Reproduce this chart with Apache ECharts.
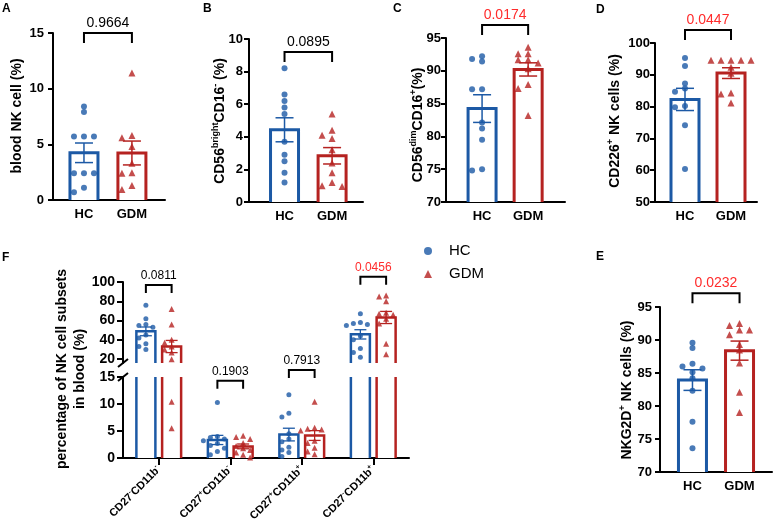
<!DOCTYPE html>
<html>
<head>
<meta charset="utf-8">
<script src="https://cdn.jsdelivr.net/npm/echarts@6/dist/echarts.min.js"></script>
<style>
html, body { margin: 0; padding: 0; background: #fff; }
#main { width: 775px; height: 531px; }
</style>
</head>
<body>
<div id="main"></div>
<script>
// values (one point per subject)
var groupNames = ["HC", "GDM"];
var pValues = ["0.9664", "0.0895", "0.0174", "0.0447", "0.0232"];

var nkHC = [8.4, 7.9, 5.7, 5.7, 5.7, 2.4, 2.4, 2.4, 1.1, 0.7];
var nkGDM = [11.4, 5.8, 5.6, 4.8, 3.3, 2.45, 2.4, 1.3, 0.95];
var brightHC = [8.2, 6.6, 6.2, 5.8, 5.4, 3.7, 2.9, 2.5, 1.8, 1.2];
var brightGDM = [5.4, 4.4, 4.1, 3.9, 3.2, 2.4, 1.8, 1.2, 1.0, 0.95];
var dimHC = [92.2, 91.8, 91.4, 87.2, 87.2, 82.1, 81.2, 79.5, 75.0, 74.8];
var dimGDM = [93.6, 92.6, 92.6, 91.7, 91.7, 91.2, 90.3, 87.9, 87.3, 83.2];
var cd226HC = [95.3, 92.8, 87.3, 85.7, 84.7, 80.2, 79.8, 74.1, 60.4];
var cd226GDM = [94.6, 94.6, 94.6, 94.6, 94.6, 92.4, 90.5, 84.3, 84.0, 81.1];
var nkg2dHC = [89.6, 88.8, 86.4, 86.0, 85.7, 85.1, 84.2, 82.3, 77.6, 73.6];
var nkg2dGDM = [92.5, 92.2, 91.5, 91.5, 90.8, 89.3, 88.5, 86.5, 82.1, 79.0];

var subsetLabels = ["CD27⁻CD11b⁻", "CD27⁺CD11b⁻", "CD27⁺CD11b⁺", "CD27⁻CD11b⁺"];
var subsetP = ["0.0811", "0.1903", "0.7913", "0.0456"];
var subsetHC = [
    [76, 62, 56, 55, 53, 45, 42, 36, 33, 30],
    [10.3, 4.0, 3.8, 3.5, 3.2, 2.7, 2.3, 1.8, 1.2, 0.6],
    [11.7, 8.3, 7.6, 4.5, 3.5, 3.0, 2.0, 1.5, 1.0, 0.3],
    [67, 58, 57, 56, 55, 44, 40, 31, 27, 22]
];
var subsetGDM = [
    [72, 56, 40, 37, 33, 30, 27, 20, 10.4, 5.5],
    [4.1, 3.9, 3.5, 2.8, 2.2, 1.8, 1.5, 1.0, 0.6, 0.1],
    [10.4, 5.6, 5.4, 5.3, 5.1, 3.2, 2.8, 1.9, 1.2, 0.7],
    [86, 85, 80, 68, 67, 66, 62, 57, 36, 25]
];

var BLUE = "#1c59a5", RED = "#b52220", PRED = "#ff2b2b";
var FONT = "Liberation Sans";

function extend(a, b) {
    var o = {}, k;
    for (k in a) o[k] = a[k];
    for (k in b) o[k] = b[k];
    return o;
}
function mean(a) {
    var s = 0;
    a.forEach(function (v) { s += v; });
    return s / a.length;
}
function sem(a) {
    var m = mean(a), s = 0;
    a.forEach(function (v) { s += (v - m) * (v - m); });
    return Math.sqrt(s / (a.length - 1)) / Math.sqrt(a.length);
}

/**
 * column scatter: push overlapping points sideways (pixel offsets)
 */
function spread(vals, ppu, step, tol) {
    var order = vals.map(function (v, i) { return i; });
    order.sort(function (a, b) { return vals[b] - vals[a]; });
    var placed = [], off = [];
    order.forEach(function (i) {
        var y = vals[i] * ppu;
        var cands = [0, -step, step, -2 * step, 2 * step];
        off[i] = 0;
        for (var c = 0; c < cands.length; c++) {
            var ok = placed.every(function (p) {
                return Math.abs(p.x - cands[c]) >= step * 0.9 || Math.abs(p.y - y) >= tol;
            });
            if (ok) { off[i] = cands[c]; break; }
        }
        placed.push({ x: off[i], y: y });
    });
    return off;
}

function barRender(bw, lw, lo, hi) {
    return function (params, api) {
        var x = api.value(0), m = api.value(1), k = api.value(3);
        if (m <= lo) return null;
        var pt = api.coord([x, Math.min(m, hi)]), pb = api.coord([x, lo]);
        var l = pt[0] - bw / 2, r = pt[0] + bw / 2;
        var st = { stroke: k ? RED : BLUE, lineWidth: lw, fill: null };
        var kids = [{ type: "rect", shape: { x: l, y: pt[1], width: bw, height: pb[1] - pt[1] }, style: { fill: "#fff" } }];
        if (m > hi) {
            kids.push({ type: "line", shape: { x1: l, y1: pb[1], x2: l, y2: pt[1] }, style: st });
            kids.push({ type: "line", shape: { x1: r, y1: pb[1], x2: r, y2: pt[1] }, style: st });
        } else {
            kids.push({ type: "polyline", shape: { points: [[l, pb[1]], [l, pt[1]], [r, pt[1]], [r, pb[1]]] }, style: st });
        }
        return { type: "group", children: kids };
    };
}

function errRender(cw, lw, lo, hi) {
    return function (params, api) {
        var x = api.value(0), m = api.value(1), s = api.value(2), k = api.value(3);
        if (m <= lo || m > hi) return null;
        var a = api.coord([x, m + s]), b = api.coord([x, m - s]);
        var st = { stroke: k ? RED : BLUE, lineWidth: lw };
        return {
            type: "group", children: [
                { type: "line", shape: { x1: a[0], y1: a[1], x2: b[0], y2: b[1] }, style: st },
                { type: "line", shape: { x1: a[0] - cw / 2, y1: a[1], x2: a[0] + cw / 2, y2: a[1] }, style: st },
                { type: "line", shape: { x1: b[0] - cw / 2, y1: b[1], x2: b[0] + cw / 2, y2: b[1] }, style: st }
            ]
        };
    };
}

function bracketRender(texts, leg, fontSize) {
    return function (params, api) {
        var a = api.coord([api.value(0), api.value(2)]), b = api.coord([api.value(1), api.value(2)]);
        var t = texts[api.value(3)];
        return {
            type: "group", children: [
                { type: "polyline", shape: { points: [[a[0], a[1] + leg], [a[0], a[1]], [b[0], b[1]], [b[0], b[1] + leg]] },
                  style: { stroke: "#000", lineWidth: 2, fill: null } },
                { type: "text", x: (a[0] + b[0]) / 2, y: a[1] - 3,
                  style: { text: t, fill: parseFloat(t) < 0.05 ? PRED : "#000", fontSize: fontSize, fontFamily: FONT, align: "center", verticalAlign: "bottom" } }
            ]
        };
    };
}

var panels = [
    { tag: "A", data: [nkHC, nkGDM], grid: { left: 53, top: 33, width: 112, height: 167 }, xr: [0.354, 2.69], yr: [0, 15, 5], bracket: 15, margin: 9,
      title: "{m|blood NK cell (%)}", tx: 17, ty: 116, lx: 2, ly: 3 },
    { tag: "B", data: [brightHC, brightGDM], grid: { left: 249, top: 39, width: 114, height: 163 }, xr: [0.253, 2.65], yr: [0, 10, 2], bracket: 9.2, margin: 6,
      title: "{m|CD56}{s|bright}{m|CD16}{s|-}{m| (%)}", tx: 220, ty: 121, lx: 203, ly: 3 },
    { tag: "C", data: [dimHC, dimGDM], grid: { left: 446, top: 38, width: 119, height: 164 }, xr: [0.217, 2.8], yr: [70, 95, 5], bracket: 97, margin: 5,
      title: "{m|CD56}{s|dim}{m|CD16}{s|+}{m|(%)}", tx: 418, ty: 125, lx: 393, ly: 3 },
    { tag: "D", data: [cd226HC, cd226GDM], grid: { left: 655, top: 43, width: 102, height: 159 }, xr: [0.348, 2.565], yr: [50, 100, 10], bracket: 104.1, margin: 5,
      title: "{m|CD226}{s|+}{m| NK cells (%)}", tx: 615, ty: 121, lx: 596, ly: 4 },
    { tag: "E", data: [nkg2dHC, nkg2dGDM], grid: { left: 660, top: 307, width: 112, height: 165 }, xr: [0.31, 2.69], yr: [70, 95, 5], bracket: 97.1, margin: 8,
      title: "{m|NKG2D}{s|+}{m| NK cells (%)}", tx: 627, ty: 390, lx: 596, ly: 251 }
];

var axisLine = { lineStyle: { color: "#000", width: 2 } };
var tickLabel = { color: "#000", fontWeight: "bold", fontSize: 13, fontFamily: FONT };
var grids = [], xAxes = [], yAxes = [], series = [], graphics = [];
var richTitle = {
    m: { fontSize: 14, fontWeight: "bold", fontFamily: FONT, lineHeight: 18, fill: "#000" },
    s: { fontSize: 9, fontWeight: "bold", fontFamily: FONT, lineHeight: 9, verticalAlign: "top", fill: "#000" }
};

panels.forEach(function (p, gi) {
    grids.push(p.grid);
    xAxes.push({
        type: "value", gridIndex: gi, min: p.xr[0], max: p.xr[1],
        axisLine: axisLine, axisTick: { show: false }, splitLine: { show: false },
        axisLabel: {
            customValues: [1, 2], margin: 8, color: "#000", fontWeight: "bold", fontSize: 13, fontFamily: FONT,
            formatter: function (v) { return groupNames[Math.round(v) - 1]; }
        }
    });
    yAxes.push({
        type: "value", gridIndex: gi, min: p.yr[0], max: p.yr[1], interval: p.yr[2],
        axisLine: { show: true, lineStyle: { color: "#000", width: 2 } },
        axisTick: { show: true, length: 5, lineStyle: { color: "#000", width: 2 } },
        axisLabel: extend(tickLabel, { margin: p.margin }), splitLine: { show: false }
    });
    var ppu = p.grid.height / (p.yr[1] - p.yr[0]);
    var bars = [];
    p.data.forEach(function (vals, k) {
        bars.push([k + 1, mean(vals), sem(vals), k]);
        var off = spread(vals, ppu, 10, 5);
        series.push({
            type: "scatter", name: groupNames[k], xAxisIndex: gi, yAxisIndex: gi, z: 3,
            symbol: k ? "triangle" : "circle", symbolSize: k ? 7 : 6,
            itemStyle: { color: k ? RED : BLUE }, clip: false, silent: true,
            data: vals.map(function (v, i) { return { value: [k + 1, v], symbolOffset: [off[i], 0] }; })
        });
    });
    series.push({ type: "custom", xAxisIndex: gi, yAxisIndex: gi, z: 2, silent: true, renderItem: barRender(28, 3, p.yr[0], p.yr[1]), data: bars });
    series.push({ type: "custom", xAxisIndex: gi, yAxisIndex: gi, z: 4, silent: true, renderItem: errRender(18, 1.5, p.yr[0], p.yr[1]), data: bars });
    series.push({ type: "custom", xAxisIndex: gi, yAxisIndex: gi, z: 4, silent: true, renderItem: bracketRender(pValues, 10, 14), data: [[1, 2, p.bracket, gi]] });
    graphics.push({ type: "text", x: p.tx, y: p.ty, rotation: Math.PI / 2, style: { text: p.title, rich: richTitle, align: "center", verticalAlign: "middle" } });
    graphics.push({ type: "text", x: p.lx, y: p.ly, style: { text: p.tag, fontSize: 12, fontWeight: "bold", fontFamily: FONT, fill: "#000" } });
});

// panel F: broken y axis, upper 16-100, lower 0-15
var fUp = { left: 123, top: 282, width: 286, height: 81 }, fLo = { left: 123, top: 377, width: 286, height: 81 };
var gu = grids.length, gl = gu + 1;
var fLabel = extend(tickLabel, { fontSize: 14, margin: 8 });
grids.push(fUp, fLo);
xAxes.push({ type: "value", gridIndex: gu, min: 0.5, max: 4.5, show: false });
xAxes.push({
    type: "value", gridIndex: gl, min: 0.5, max: 4.5, axisLine: axisLine, splitLine: { show: false },
    axisTick: { show: true, customValues: [1, 2, 3, 4], length: 7, lineStyle: { color: "#000", width: 2 } },
    axisLabel: {
        customValues: [1, 2, 3, 4], rotate: 45, margin: 10,
        formatter: function (v) {
            var s = subsetLabels[Math.round(v) - 1];
            return "{m|" + s.replace(/⁻/g, "}{s|-}{m|").replace(/⁺/g, "}{s|+}{m|") + "}";
        },
        rich: {
            m: { fontSize: 11, fontWeight: "bold", fontFamily: FONT, color: "#000", lineHeight: 14 },
            s: { fontSize: 7, fontWeight: "bold", fontFamily: FONT, color: "#000", lineHeight: 7, verticalAlign: "top" }
        }
    }
});
yAxes.push({
    type: "value", gridIndex: gu, min: 16, max: 100, splitLine: { show: false },
    axisLine: { show: true, lineStyle: { color: "#000", width: 2 } },
    axisTick: { show: true, customValues: [20, 40, 60, 80, 100], length: 6, lineStyle: { color: "#000", width: 2 } },
    axisLabel: extend(fLabel, { customValues: [20, 40, 60, 80, 100] })
});
yAxes.push({
    type: "value", gridIndex: gl, min: 0, max: 15, interval: 5, splitLine: { show: false },
    axisLine: { show: true, lineStyle: { color: "#000", width: 2 } },
    axisTick: { show: true, length: 6, lineStyle: { color: "#000", width: 2 } },
    axisLabel: fLabel
});

var fBars = [], dx = 0.18;
[subsetHC, subsetGDM].forEach(function (sets, k) {
    var upPts = [], loPts = [];
    sets.forEach(function (vals, c) {
        var x = c + 1 + (k ? dx : -dx);
        fBars.push([x, mean(vals), sem(vals), k]);
        var hiVals = vals.filter(function (v) { return v > 15; });
        var loVals = vals.filter(function (v) { return v <= 15; });
        var offU = spread(hiVals, fUp.height / 84, 7, 5), offL = spread(loVals, fLo.height / 15, 7, 5);
        hiVals.forEach(function (v, i) { upPts.push({ value: [x, v], symbolOffset: [offU[i], 0] }); });
        loVals.forEach(function (v, i) { loPts.push({ value: [x, v], symbolOffset: [offL[i], 0] }); });
    });
    [[gu, upPts], [gl, loPts]].forEach(function (g) {
        series.push({
            type: "scatter", name: groupNames[k], xAxisIndex: g[0], yAxisIndex: g[0], z: 3,
            symbol: k ? "triangle" : "circle", symbolSize: k ? 6 : 5,
            itemStyle: { color: k ? RED : BLUE }, clip: false, silent: true, data: g[1]
        });
    });
});
series.push({ type: "custom", xAxisIndex: gu, yAxisIndex: gu, z: 2, silent: true, renderItem: barRender(19, 2.5, 16, 100), data: fBars });
series.push({ type: "custom", xAxisIndex: gl, yAxisIndex: gl, z: 2, silent: true, renderItem: barRender(19, 2.5, 0, 15), data: fBars });
series.push({ type: "custom", xAxisIndex: gu, yAxisIndex: gu, z: 4, silent: true, renderItem: errRender(12, 1.3, 16, 100), data: fBars });
series.push({ type: "custom", xAxisIndex: gl, yAxisIndex: gl, z: 4, silent: true, renderItem: errRender(12, 1.3, 0, 15), data: fBars });
series.push({ type: "custom", xAxisIndex: gu, yAxisIndex: gu, z: 4, silent: true, renderItem: bracketRender(subsetP, 8, 12),
    data: [[1 - dx, 1 + dx, 96.9, 0], [4 - dx, 4 + dx, 105.5, 3]] });
series.push({ type: "custom", xAxisIndex: gl, yAxisIndex: gl, z: 4, silent: true, renderItem: bracketRender(subsetP, 8, 12),
    data: [[2 - dx, 2 + dx, 14.3, 1], [3 - dx, 3 + dx, 16.3, 2]] });

graphics.push({ type: "text", x: 71, y: 369, rotation: Math.PI / 2,
    style: { text: "{m|percentage of NK cell subsets}\n{m|in blood (%)}", rich: richTitle, align: "center", verticalAlign: "middle" } });
graphics.push({ type: "text", x: 2, y: 252, style: { text: "F", fontSize: 12, fontWeight: "bold", fontFamily: FONT, fill: "#000" } });
// axis break marks
[fUp.top + fUp.height, fLo.top].forEach(function (y) {
    graphics.push({ type: "line", shape: { x1: 118, y1: y + 4, x2: 128, y2: y - 4 }, style: { stroke: "#000", lineWidth: 2 } });
});

var chart = echarts.init(document.getElementById("main"));
chart.setOption({
    animation: false,
    backgroundColor: "#fff",
    grid: grids,
    xAxis: xAxes,
    yAxis: yAxes,
    legend: {
        data: [{ name: "HC", icon: "circle" }, { name: "GDM", icon: "triangle" }],
        orient: "vertical", left: 419, top: 238, itemWidth: 8, itemHeight: 8, itemGap: 7, selectedMode: false,
        textStyle: { fontFamily: FONT, fontSize: 15, color: "#000", lineHeight: 16, padding: [0, 0, 0, 12] }
    },
    graphic: graphics,
    series: series
});
</script>
</body>
</html>
